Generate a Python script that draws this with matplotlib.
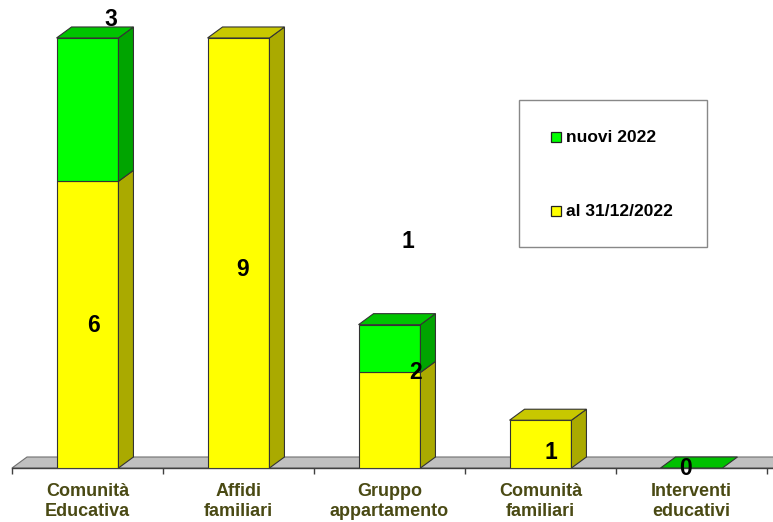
import matplotlib
matplotlib.use("Agg")
import matplotlib.pyplot as plt
from matplotlib.patches import Polygon, Rectangle

# ---- data ----
categories = ["Comunità\nEducativa", "Affidi\nfamiliari", "Gruppo\nappartamento",
              "Comunità\nfamiliari", "Interventi\neducativi"]
al_31_12_2022 = [6, 9, 2, 1, 0]
nuovi_2022 = [3, 0, 1, 0, 0]
series_names = ["nuovi 2022", "al 31/12/2022"]

# value-label anchor positions (data coords), as placed in the original
label_pos_al = [(0.043, 2.99), (1.03, 4.16), (2.175, 1.99), (3.07, 0.33), None]
label_pos_nuovi = [(0.156, 9.38), None, (2.12, 4.75), None, (3.96, -0.02)]

# ---- style ----
YEL = dict(front="#FFFF00", side="#AAAA00", top="#C8C800")
GRN = dict(front="#00FF00", side="#00A400", top="#00C400")
EDGE = "#333333"
FONT = "Liberation Sans"

W, H = 773, 522
fig = plt.figure(figsize=(W / 100, H / 100), dpi=100)
fig.patch.set_facecolor("white")

px_per_x = 151.0
px_per_y = 47.78
left_px, base_px = 12, 468
ax = fig.add_axes([left_px / W, (H - base_px) / H, (W - left_px) / W, base_px / H])
xmax = -0.5 + (W - left_px) / px_per_x
ax.set_xlim(-0.5, xmax)
ax.set_ylim(0, base_px / px_per_y)
ax.set_facecolor("none")

dx = 15 / px_per_x
dy = 11 / px_per_y
hw = 0.205

# floor
floor = Polygon([(-0.5, 0), (xmax + 1, 0), (xmax + 1 + dx, dy), (-0.5 + dx, dy)],
                closed=True, facecolor="#C0C0C0", edgecolor="#707070", lw=0.8,
                zorder=1, clip_on=False)
ax.add_patch(floor)


def seg(x, y0, y1, cols, z):
    if y1 > y0:
        ax.add_patch(Rectangle((x - hw, y0), 2 * hw, y1 - y0, facecolor=cols["front"],
                               edgecolor=EDGE, lw=0.8, zorder=z))
        ax.add_patch(Polygon([(x + hw, y0), (x + hw + dx, y0 + dy), (x + hw + dx, y1 + dy),
                              (x + hw, y1)], closed=True, facecolor=cols["side"],
                             edgecolor=EDGE, lw=0.8, zorder=z))


def top(x, y, cols, z):
    ax.add_patch(Polygon([(x - hw, y), (x + hw, y), (x + hw + dx, y + dy), (x - hw + dx, y + dy)],
                         closed=True, facecolor=cols["top"] if y > 0 else "#00C000",
                         edgecolor=EDGE, lw=0.8, zorder=z))


for i in range(len(categories)):
    a = al_31_12_2022[i]
    n = nuovi_2022[i]
    seg(i, 0, a, YEL, 3)
    seg(i, a, a + n, GRN, 4)
    if n > 0 or a == 0:
        top(i, a + n, GRN, 5)
    else:
        top(i, a, YEL, 5)

# value labels
for i in range(len(categories)):
    for pos, val in ((label_pos_al[i], al_31_12_2022[i]), (label_pos_nuovi[i], nuovi_2022[i])):
        if pos is not None:
            ax.text(pos[0], pos[1], str(val), ha="center", va="center", fontsize=16.5,
                    fontweight="bold", family=FONT, color="black", zorder=10, clip_on=False)

# axis
for s in ("left", "right", "top"):
    ax.spines[s].set_visible(False)
ax.spines["bottom"].set_color("#404040")
ax.spines["bottom"].set_linewidth(1.0)
ax.spines["bottom"].set_zorder(2)
ax.set_yticks([])
ax.set_xticks(range(len(categories)))
ax.set_xticklabels(categories, family=FONT, fontsize=13, fontweight="bold",
                   color="#4A4A14", linespacing=1.3)
ax.tick_params(axis="x", which="major", length=0, pad=10.5)
ax.set_xticks([i - 0.5 for i in range(len(categories) + 1)], minor=True)
ax.tick_params(axis="x", which="minor", length=4, width=1, color="#404040", direction="out")

# legend box
lx0, ly_top, lx1, ly_bot = 519, 100, 707, 247
fig.add_artist(Rectangle((lx0 / W, (H - ly_bot) / H), (lx1 - lx0) / W, (ly_bot - ly_top) / H,
                         transform=fig.transFigure, facecolor="white", edgecolor="#888888",
                         lw=1.0, zorder=20))
for name, cols, cy in ((series_names[0], GRN, 137), (series_names[1], YEL, 211)):
    fig.add_artist(Rectangle((551 / W, (H - cy - 5) / H), 10 / W, 10 / H,
                             transform=fig.transFigure, facecolor=cols["front"],
                             edgecolor="#222222", lw=0.9, zorder=21))
    fig.text(566 / W, (H - cy) / H, name, ha="left", va="center", fontsize=12.5,
             fontweight="bold", family=FONT, color="black", zorder=22)

fig.savefig("out.png", dpi=100)
